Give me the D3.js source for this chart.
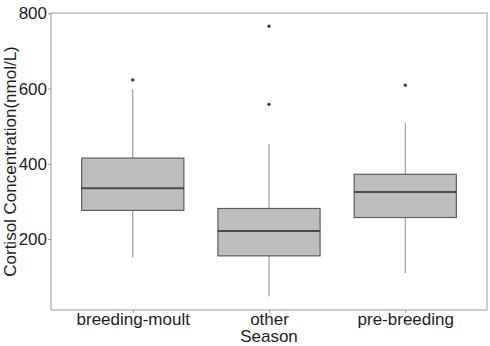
<!DOCTYPE html>
<html>
<head>
<meta charset="utf-8">
<script src="https://cdn.jsdelivr.net/npm/d3@7/dist/d3.min.js"></script>
<style>
  html, body { margin: 0; padding: 0; background: #fff; }
  svg { display: block; font-family: "Liberation Sans", Arial, sans-serif; }
</style>
</head>
<body>
<svg id="chart" width="490" height="346"></svg>
<script>
// Cortisol concentration by season: box summaries (nmol/L)
const seasons  = ["breeding-moult", "other", "pre-breeding"];
const q1       = [276, 155, 257];
const medians  = [335, 221, 325];
const q3       = [415, 281, 372];
const whiskLo  = [151, 47, 109];
const whiskHi  = [598, 453, 509];
const outliers = [[623], [766, 558], [609]];
const yTicks   = [200, 400, 600, 800];

const W = 490, H = 346;
const m = { left: 51, right: 3, top: 13, bottom: 36 };
const svg = d3.select("#chart");

const x = d3.scalePoint().domain(seasons).range([m.left, W - m.right]).padding(0.6);
const step = x.step();
const y = d3.scaleLinear().domain([11, 801]).range([H - m.bottom, m.top]);

// panel border
svg.append("rect")
  .attr("x", m.left).attr("y", m.top)
  .attr("width", W - m.left - m.right).attr("height", H - m.top - m.bottom)
  .attr("fill", "none").attr("stroke", "#9a9a9a").attr("stroke-width", 1);

// y axis
const yAxis = svg.append("g")
  .attr("transform", `translate(${m.left},0)`)
  .call(d3.axisLeft(y).tickValues(yTicks).tickSize(3).tickPadding(1));
yAxis.select(".domain").remove();
yAxis.selectAll("line").attr("stroke", "#9a9a9a");
yAxis.selectAll("text").attr("font-size", 17).attr("fill", "#1e1e1e")
  .attr("font-family", "Liberation Sans, Arial, sans-serif");

// x axis
const xAxis = svg.append("g")
  .attr("transform", `translate(0,${H - m.bottom})`)
  .call(d3.axisBottom(x).tickSize(3).tickPadding(0));
xAxis.select(".domain").remove();
xAxis.selectAll("line").attr("stroke", "#9a9a9a");
xAxis.selectAll("text").attr("font-size", 17).attr("fill", "#1e1e1e")
  .attr("font-family", "Liberation Sans, Arial, sans-serif");

// axis titles
svg.append("text")
  .attr("x", x("other")).attr("y", 341.5)
  .attr("text-anchor", "middle").attr("font-size", 17).attr("fill", "#1e1e1e")
  .text("Season");
svg.append("text")
  .attr("transform", `translate(16,${(m.top + H - m.bottom) / 2}) rotate(-90)`)
  .attr("text-anchor", "middle").attr("font-size", 17).attr("fill", "#1e1e1e")
  .text("Cortisol Concentration(nmol/L)");

// boxes
const bw = step * 0.75;
seasons.forEach((s, i) => {
  const cx = x(s);
  const g = svg.append("g");
  g.append("line")
    .attr("x1", cx).attr("x2", cx).attr("y1", y(q3[i])).attr("y2", y(whiskHi[i]))
    .attr("stroke", "#8a8a8a").attr("stroke-width", 1);
  g.append("line")
    .attr("x1", cx).attr("x2", cx).attr("y1", y(q1[i])).attr("y2", y(whiskLo[i]))
    .attr("stroke", "#8a8a8a").attr("stroke-width", 1);
  g.append("rect")
    .attr("x", cx - bw / 2).attr("y", y(q3[i]))
    .attr("width", bw).attr("height", y(q1[i]) - y(q3[i]))
    .attr("fill", "#bebebe").attr("stroke", "#5e5e5e").attr("stroke-width", 1.2);
  g.append("line")
    .attr("x1", cx - bw / 2).attr("x2", cx + bw / 2)
    .attr("y1", y(medians[i])).attr("y2", y(medians[i]))
    .attr("stroke", "#4a4a4a").attr("stroke-width", 2);
  outliers[i].forEach(v => {
    g.append("circle").attr("cx", cx).attr("cy", y(v)).attr("r", 1.6).attr("fill", "#333");
  });
});
</script>
</body>
</html>
